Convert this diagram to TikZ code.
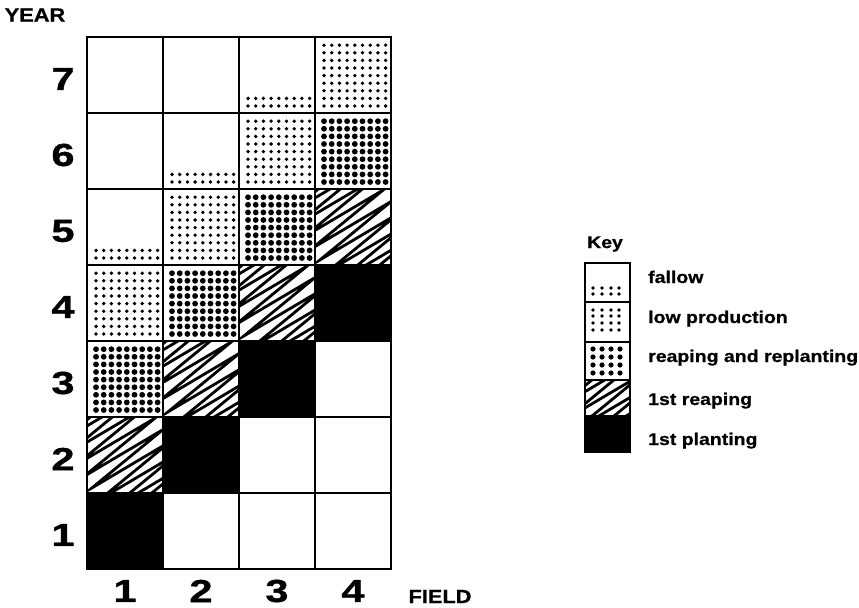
\documentclass[tikz,border=0pt]{standalone}
\usepackage{fontspec}
\newfontfamily\lbl{Liberation Sans}[FakeStretch=1.15,FakeBold=0.8]
\newfontfamily\dlbl{Liberation Sans}[FakeStretch=1.3,FakeBold=1.2]
\newcommand\cellxy[2]{\pgfmathsetmacro\cx{87+76*(#1-1)}\pgfmathsetmacro\cy{569-76*(#2-1)}}
% dots grid, rows from bottom; #1 x-left #2 y-bottom #3 number of rows #4 radius
\newcommand\dotgrid[4]{%
  \foreach \i in {0,...,8}{\foreach \j in {1,...,#3}{%
    \fill ({#1+9+7.7*\i},{#2-7-7.6*(\j-1)}) circle (#4);}}}
\newcommand\hatchbox[4]{%
  \begin{scope}
    \clip (#1,#2) rectangle (#3,#4);
    \draw[hatchline, shift={({(#1+#3)/2},{(#2+#4)/2})}, rotate=35]
      plot[samples at={0,...,18}] ({ifthenelse(mod(\x,2)==0,-46,46)},{-62+7*\x});
  \end{scope}}
\begin{document}
\begin{tikzpicture}[x=1bp,y=-1bp,
  gridline/.style={line width=2bp, line cap=rect},
  keyline/.style={line width=1.6bp},
  hatchline/.style={line width=2.8bp, line join=miter, miter limit=30},
  digit/.style={font=\dlbl\bfseries\fontsize{32}{32}\selectfont, inner sep=0pt},
  axislbl/.style={font=\lbl\bfseries\fontsize{19}{19}\selectfont, inner sep=0pt},
  keylbl/.style={font=\lbl\bfseries\fontsize{17}{17}\selectfont, inner sep=0pt, anchor=base west}]
\useasboundingbox (0,0) rectangle (859,608);
% fallow cells (two bottom rows of dots)
\foreach \c/\y in {3/7,2/6,1/5}{\cellxy{\c}{\y}\dotgrid{\cx}{\cy}{2}{1.9}}
% low production
\foreach \c/\y in {4/7,3/6,2/5,1/4}{\cellxy{\c}{\y}\dotgrid{\cx}{\cy}{9}{1.9}}
% reaping and replanting
\foreach \c/\y in {4/6,3/5,2/4,1/3}{\cellxy{\c}{\y}\dotgrid{\cx}{\cy}{9}{2.9}}
% 1st reaping
\foreach \c/\y in {4/5,3/4,2/3,1/2}{\cellxy{\c}{\y}\hatchbox{\cx}{\cy-76}{\cx+76}{\cy}}
% 1st planting
\foreach \c/\y in {4/4,3/3,2/2,1/1}{\cellxy{\c}{\y}\fill (\cx,\cy-76) rectangle (\cx+76,\cy);}
% grid
\foreach \i in {0,...,4}{\draw[gridline] ({87+76*\i},37) -- ({87+76*\i},569);}
\foreach \j in {0,...,7}{\draw[gridline] (87,{37+76*\j}) -- (391,{37+76*\j});}
% axis labels
\node[axislbl] (yearlbl) at (35,15) {YEAR};
\node[axislbl] (fieldlbl) at (440,596.5) {FIELD};
\foreach \y in {1,...,7}{\node[digit] (yr\y) at (63,{569-76*(\y-1)-38+4}) {\y};}
\foreach \c in {1,...,4}{\node[digit] (fd\c) at ({87+76*(\c-1)+38},591) {\c};}
% key
\node[keylbl, anchor=center] (keytitle) at (605,244) {Key};
% fallow key
\foreach \xx in {593,602,611,619}{\foreach \yy in {288,294}{\fill (\xx,\yy) circle (1.8);}}
% low production key
\foreach \xx in {593,602,611,619}{\foreach \yy in {310,316,323,330}{\fill (\xx,\yy) circle (1.8);}}
% reaping key
\foreach \xx in {593,602,611,620}{\foreach \yy in {349,357,365,373}{\fill (\xx,\yy) circle (2.6);}}
\hatchbox{585}{380}{630}{415}
\fill (585,415) rectangle (630,452);
\draw[keyline] (585,263) rectangle (630,452);
\draw[keyline] (585,302) -- (630,302);
\draw[keyline] (585,342) -- (630,342);
\draw[keyline] (585,380) -- (630,380);
\node[keylbl] (kfallow) at (648,283) {fallow};
\node[keylbl] (klow) at (648,323) {low production};
\node[keylbl] (kreap) at (648,362) {reaping and replanting};
\node[keylbl] (kfirstreap) at (648,405) {1st reaping};
\node[keylbl] (kfirstplant) at (648,445) {1st planting};
\end{tikzpicture}
\end{document}
